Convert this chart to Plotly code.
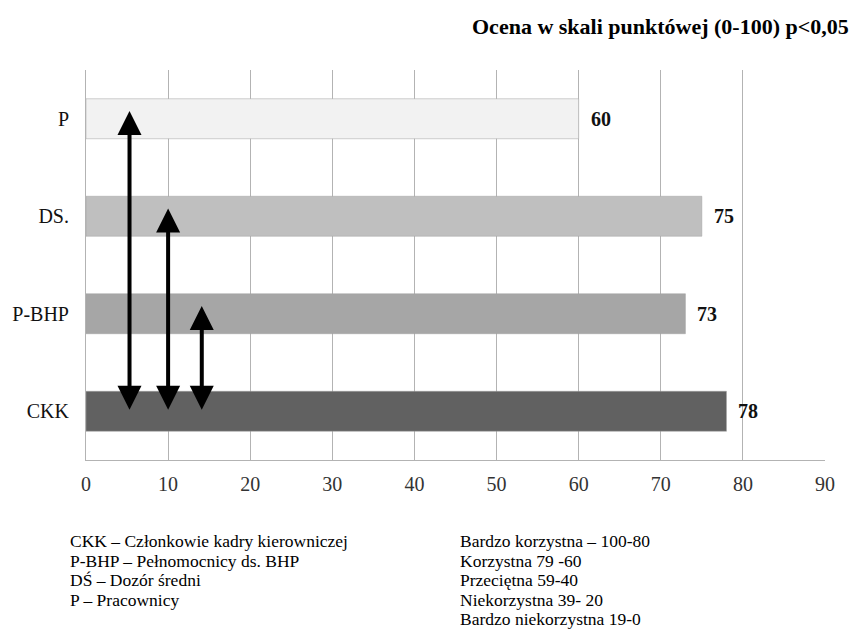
import plotly.graph_objects as go

categories = ["CKK", "P-BHP", "DS.", "P"]
values = [78, 73, 75, 60]
bar_colors = ["#616161", "#a6a6a6", "#bfbfbf", "#f2f2f2"]
x_ticks = [0, 10, 20, 30, 40, 50, 60, 70, 80, 90]

# double-headed arrows: (x position, from category, to category)
arrow_x = [5.3, 10.0, 14.1]
arrow_from = ["P", "DS.", "P-BHP"]
arrow_to = ["CKK", "CKK", "CKK"]

title_text = "Ocena w skali punktówej (0-100) p<0,05"
legend_left = ["CKK – Członkowie kadry kierowniczej",
               "P-BHP – Pełnomocnicy ds. BHP",
               "DŚ – Dozór średni",
               "P – Pracownicy"]
legend_right = ["Bardzo korzystna – 100-80",
                "Korzystna 79 -60",
                "Przeciętna 59-40",
                "Niekorzystna 39- 20",
                "Bardzo niekorzystna 19-0"]

FONT = "Liberation Serif"
W, H = 854, 630
ML, MR, MT, MB = 86, 29, 70, 170
PW, PH = W - ML - MR, H - MT - MB


def px_x(px):
    return (px - ML) / PW


def px_y(py):
    return (H - MB - py) / PH


fig = go.Figure()
fig.add_trace(go.Bar(
    y=categories, x=values, orientation="h",
    marker=dict(color=bar_colors, line=dict(color="#a0a0a0", width=0.5)),
    width=0.41, hoverinfo="skip", showlegend=False,
))

annotations = []
for c, v in zip(categories, values):
    annotations.append(dict(x=v, y=c, xref="x", yref="y", text="<b>%d</b>" % v,
                            showarrow=False, xanchor="left", xshift=10,
                            font=dict(family=FONT, size=20, color="#111")))

cat_idx = {c: i for i, c in enumerate(categories)}
for ax_, f, t in zip(arrow_x, arrow_from, arrow_to):
    y0 = cat_idx[t]
    y1 = cat_idx[f]
    annotations.append(dict(x=ax_, y=y1 + 0.08, ax=ax_, ay=y0, xref="x", yref="y",
                            axref="x", ayref="y", showarrow=True, arrowhead=2,
                            startarrowhead=2, arrowside="end+start", arrowsize=1.2,
                            startarrowsize=1.2, arrowwidth=4, arrowcolor="#000",
                            text="", standoff=0, startstandoff=0))

annotations.append(dict(x=px_x(851), y=px_y(27), xref="paper", yref="paper",
                        text="<b>" + title_text.replace("<", "&lt;") + "</b>",
                        showarrow=False, xanchor="right", yanchor="middle",
                        font=dict(family=FONT, size=22, color="#000")))
for i, line in enumerate(legend_left):
    annotations.append(dict(x=px_x(68), y=px_y(541 + 19.6 * i), xref="paper", yref="paper",
                            text=line, align="left", showarrow=False,
                            xanchor="left", yanchor="middle",
                            font=dict(family=FONT, size=17.5, color="#000")))
for i, line in enumerate(legend_right):
    annotations.append(dict(x=px_x(458), y=px_y(541 + 19.6 * i), xref="paper", yref="paper",
                            text=line, align="left", showarrow=False,
                            xanchor="left", yanchor="middle",
                            font=dict(family=FONT, size=17.5, color="#000")))

fig.update_layout(
    width=W, height=H,
    margin=dict(l=ML, r=MR, t=MT, b=MB, autoexpand=False),
    paper_bgcolor="white", plot_bgcolor="white",
    annotations=annotations,
    font=dict(family=FONT, color="#000"),
    xaxis=dict(range=[0, 90], tickvals=x_ticks, showgrid=True, gridcolor="#b3b3b3",
               gridwidth=1, zeroline=False, showline=True, linecolor="#b3b3b3",
               ticks="", ticklabelstandoff=6, automargin=False,
               tickfont=dict(family=FONT, size=20, color="#333"), fixedrange=True),
    yaxis=dict(categoryorder="array", categoryarray=categories, range=[-0.5, 3.5],
               showgrid=False, zeroline=False, showline=True, linecolor="#b3b3b3",
               ticks="", ticklabelstandoff=12, automargin=False,
               tickfont=dict(family=FONT, size=20, color="#111"),
               fixedrange=True),
)

fig.write_html("out.html", config={"displayModeBar": False},
               post_script="document.body.style.margin='0';")
